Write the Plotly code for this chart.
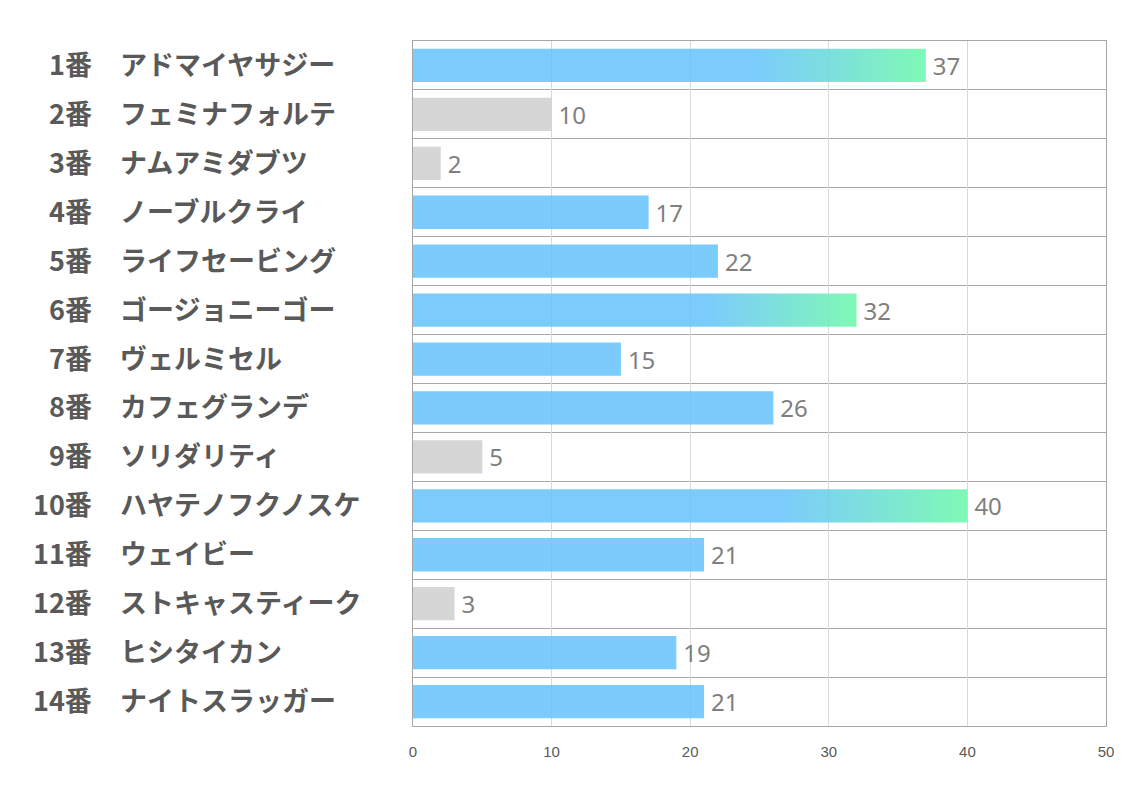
import plotly.graph_objects as go

numbers = ["1番", "2番", "3番", "4番", "5番", "6番", "7番", "8番", "9番", "10番", "11番", "12番", "13番", "14番"]
names = ["アドマイヤサジー", "フェミナフォルテ", "ナムアミダブツ", "ノーブルクライ", "ライフセービング",
         "ゴージョニーゴー", "ヴェルミセル", "カフェグランデ", "ソリダリティ", "ハヤテノフクノスケ",
         "ウェイビー", "ストキャスティーク", "ヒシタイカン", "ナイトスラッガー"]
values = [37, 10, 2, 17, 22, 32, 15, 26, 5, 40, 21, 3, 19, 21]
x_ticks = [0, 10, 20, 30, 40, 50]

BLUE = "rgba(100,194,252,0.85)"
GREEN = "rgba(110,248,172,0.88)"
GRAY = "rgba(210,210,210,0.9)"

ranked = sorted(values, reverse=True)
top_cut = ranked[2]
low_cut = ranked[-4]

ypos = list(range(len(values)))
half = 0.34

bar_colors = []
for v in values:
    if v >= top_cut:
        bar_colors.append("rgba(0,0,0,0)")
    elif v <= low_cut:
        bar_colors.append(GRAY)
    else:
        bar_colors.append(BLUE)

fig = go.Figure()
fig.add_trace(go.Bar(
    x=values, y=ypos, orientation="h", width=half * 2,
    marker=dict(color=bar_colors, line=dict(width=0)),
    text=["\u2009" + str(v) for v in values], textposition="outside", cliponaxis=False,
    textfont=dict(family="Noto Sans", size=24, color="#7f7f7f"),
    hoverinfo="skip", showlegend=False,
))

for i, v in enumerate(values):
    if v >= top_cut:
        fig.add_trace(go.Scatter(
            x=[0, v, v, 0, 0], y=[i - half, i - half, i + half, i + half, i - half],
            mode="lines", fill="toself", line=dict(width=0),
            fillgradient=dict(type="horizontal",
                              colorscale=[[0, BLUE], [0.66, BLUE], [1, GREEN]]),
            hoverinfo="skip", showlegend=False,
        ))

label_font = dict(family="Noto Sans CJK JP", size=27, color="#595959", weight="bold")
for i in ypos:
    fig.add_annotation(xref="paper", yref="y", x=0, y=i, text=numbers[i],
                       showarrow=False, xanchor="right", xshift=-319, yshift=2, font=label_font)
    fig.add_annotation(xref="paper", yref="y", x=0, y=i, text=names[i],
                       showarrow=False, xanchor="left", xshift=-295, yshift=2, font=label_font)

fig.update_layout(
    width=1134, height=793,
    margin=dict(l=405, r=36, t=33, b=75),
    paper_bgcolor="white", plot_bgcolor="white",
    xaxis=dict(range=[0, 50], tickvals=x_ticks, showgrid=True, gridcolor="#d9d9d9", gridwidth=1,
               zeroline=False, showline=True, linecolor="#a6a6a6", mirror=True,
               tickfont=dict(family="Liberation Sans Narrow, Liberation Sans", size=15, color="#595959"),
               ticks="", ticklen=0, ticklabelstandoff=12),
    yaxis=dict(range=[len(values) - 0.5, -0.5], tickvals=ypos, showticklabels=False,
               showgrid=False, zeroline=False, showline=True, linecolor="#a6a6a6", mirror=True,
               minor=dict(tickmode="linear", tick0=0.5, dtick=1, showgrid=True,
                          gridcolor="#a6a6a6", gridwidth=1, ticks="")),
)

fig.write_html("out.html")
